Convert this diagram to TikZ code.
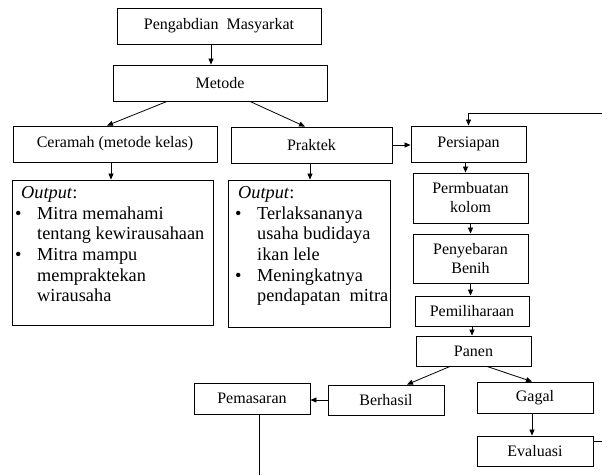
\documentclass[tikz,border=0pt]{standalone}
\usepackage{fontspec}
\setmainfont{Liberation Serif}
\usetikzlibrary{arrows.meta}
\newcommand{\outfont}{\fontsize{18.3}{20.6}\selectfont}
\begin{document}
\begin{tikzpicture}[x=1pt,y=-1pt,
  box/.style={draw,line width=0.9pt,inner sep=0pt,align=center,font=\fontsize{16}{19}\selectfont},
  arr/.style={line width=0.8pt,-{Triangle[length=6pt,width=5pt]}},
  ln/.style={line width=0.8pt},
  outtext/.style={anchor=north west,inner sep=0pt,align=left,font=\outfont}]
\useasboundingbox (0,0) rectangle (602,475);
\node[box,minimum width=204pt,minimum height=36pt] (peng) at (219,26) {Pengabdian\ \ Masyarkat};
\node[box,minimum width=214pt,minimum height=36pt] (metode) at (220,83) {Metode};
\node[box,minimum width=204pt,minimum height=36pt] (ceramah) at (115,144) {Ceramah (metode kelas)};
\node[box,minimum width=161pt,minimum height=36pt] (praktek) at (311.5,145) {Praktek};
\node[box,minimum width=201pt,minimum height=145pt] (out1) at (112.5,252.5) {};
\node[box,minimum width=162pt,minimum height=147pt] (out2) at (309,253.5) {};
\node[outtext] (t1) at (15,184) {\begin{tabular}{@{}p{22pt}@{}l@{}}
\multicolumn{2}{@{}l}{\hspace{6pt}\textit{Output}:}\\
\textbullet & Mitra memahami\\
 & tentang kewirausahaan\\
\textbullet & Mitra mampu\\
 & mempraktekan\\
 & wirausaha
\end{tabular}};
\node[outtext] (t2) at (235,184) {\begin{tabular}{@{}p{22pt}@{}l@{}}
\multicolumn{2}{@{}l}{\hspace{3pt}\textit{Output}:}\\
\textbullet & Terlaksananya\\
 & usaha budidaya\\
 & ikan lele\\
\textbullet & Meningkatnya\\
 & pendapatan\ \ mitra
\end{tabular}};
\node[box,minimum width=115pt,minimum height=36pt] (persiapan) at (468.5,144) {Persiapan};
\node[box,minimum width=115pt,minimum height=50pt] (kolom) at (470.5,198) {Permbuatan\\kolom};
\node[box,minimum width=115pt,minimum height=49pt] (benih) at (470.5,258.5) {Penyebaran\\Benih};
\node[box,minimum width=114pt,minimum height=30pt] (pemil) at (472,311) {Pemiliharaan};
\node[box,minimum width=115pt,minimum height=30pt] (panen) at (473.5,351) {Panen};
\node[box,minimum width=116pt,minimum height=31pt] (pemasaran) at (252,398.5) {Pemasaran};
\node[box,minimum width=116pt,minimum height=30pt] (berhasil) at (386,400) {Berhasil};
\node[box,minimum width=116pt,minimum height=31pt] (gagal) at (535,397.5) {Gagal};
\node[box,minimum width=116pt,minimum height=30pt] (evaluasi) at (535,451) {Evaluasi};
\coordinate (fb) at (602,113);
\coordinate (ev) at (602,441);
\coordinate (pm) at (259,475);
% connectors
\draw[arr] ([xshift=-8pt]peng.south) -- ([xshift=-8pt]peng.south |- metode.north);
\draw[arr] ([xshift=-53pt]metode.south) -- ([xshift=-8pt]ceramah.north);
\draw[arr] ([xshift=30pt]metode.south) -- ([xshift=-6.5pt]praktek.north);
\draw[arr] ([xshift=-4pt]ceramah.south) -- ([xshift=-4pt]ceramah.south |- out1.north);
\draw[arr] ([xshift=-1.5pt]praktek.south) -- ([xshift=-1.5pt]praktek.south |- out2.north);
\draw[arr] (praktek.east) -- (persiapan.west |- praktek.east);
\draw[arr] (fb) -| (persiapan.north);
\draw[arr] ([xshift=-3pt]persiapan.south) -- ([xshift=-3pt]persiapan.south |- kolom.north);
\draw[arr] (kolom.south) -- (kolom.south |- benih.north);
\draw[arr] (benih.south) -- (benih.south |- pemil.north);
\draw[arr] (pemil.south) -- (pemil.south |- panen.north);
\draw[arr] ([xshift=-23.5pt]panen.south) -- ([xshift=21pt]berhasil.north);
\draw[arr] ([xshift=13.5pt]panen.south) -- ([xshift=-3pt]gagal.north);
\draw[arr] (berhasil.west) -- (pemasaran.east |- berhasil.west);
\draw[arr] ([xshift=-3pt]gagal.south) -- ([xshift=-3pt]gagal.south |- evaluasi.north);
\draw[ln] ([yshift=10pt]evaluasi.east) -- (ev);
\draw[ln] ([xshift=7pt]pemasaran.south) -- (pm);
\end{tikzpicture}
\end{document}
